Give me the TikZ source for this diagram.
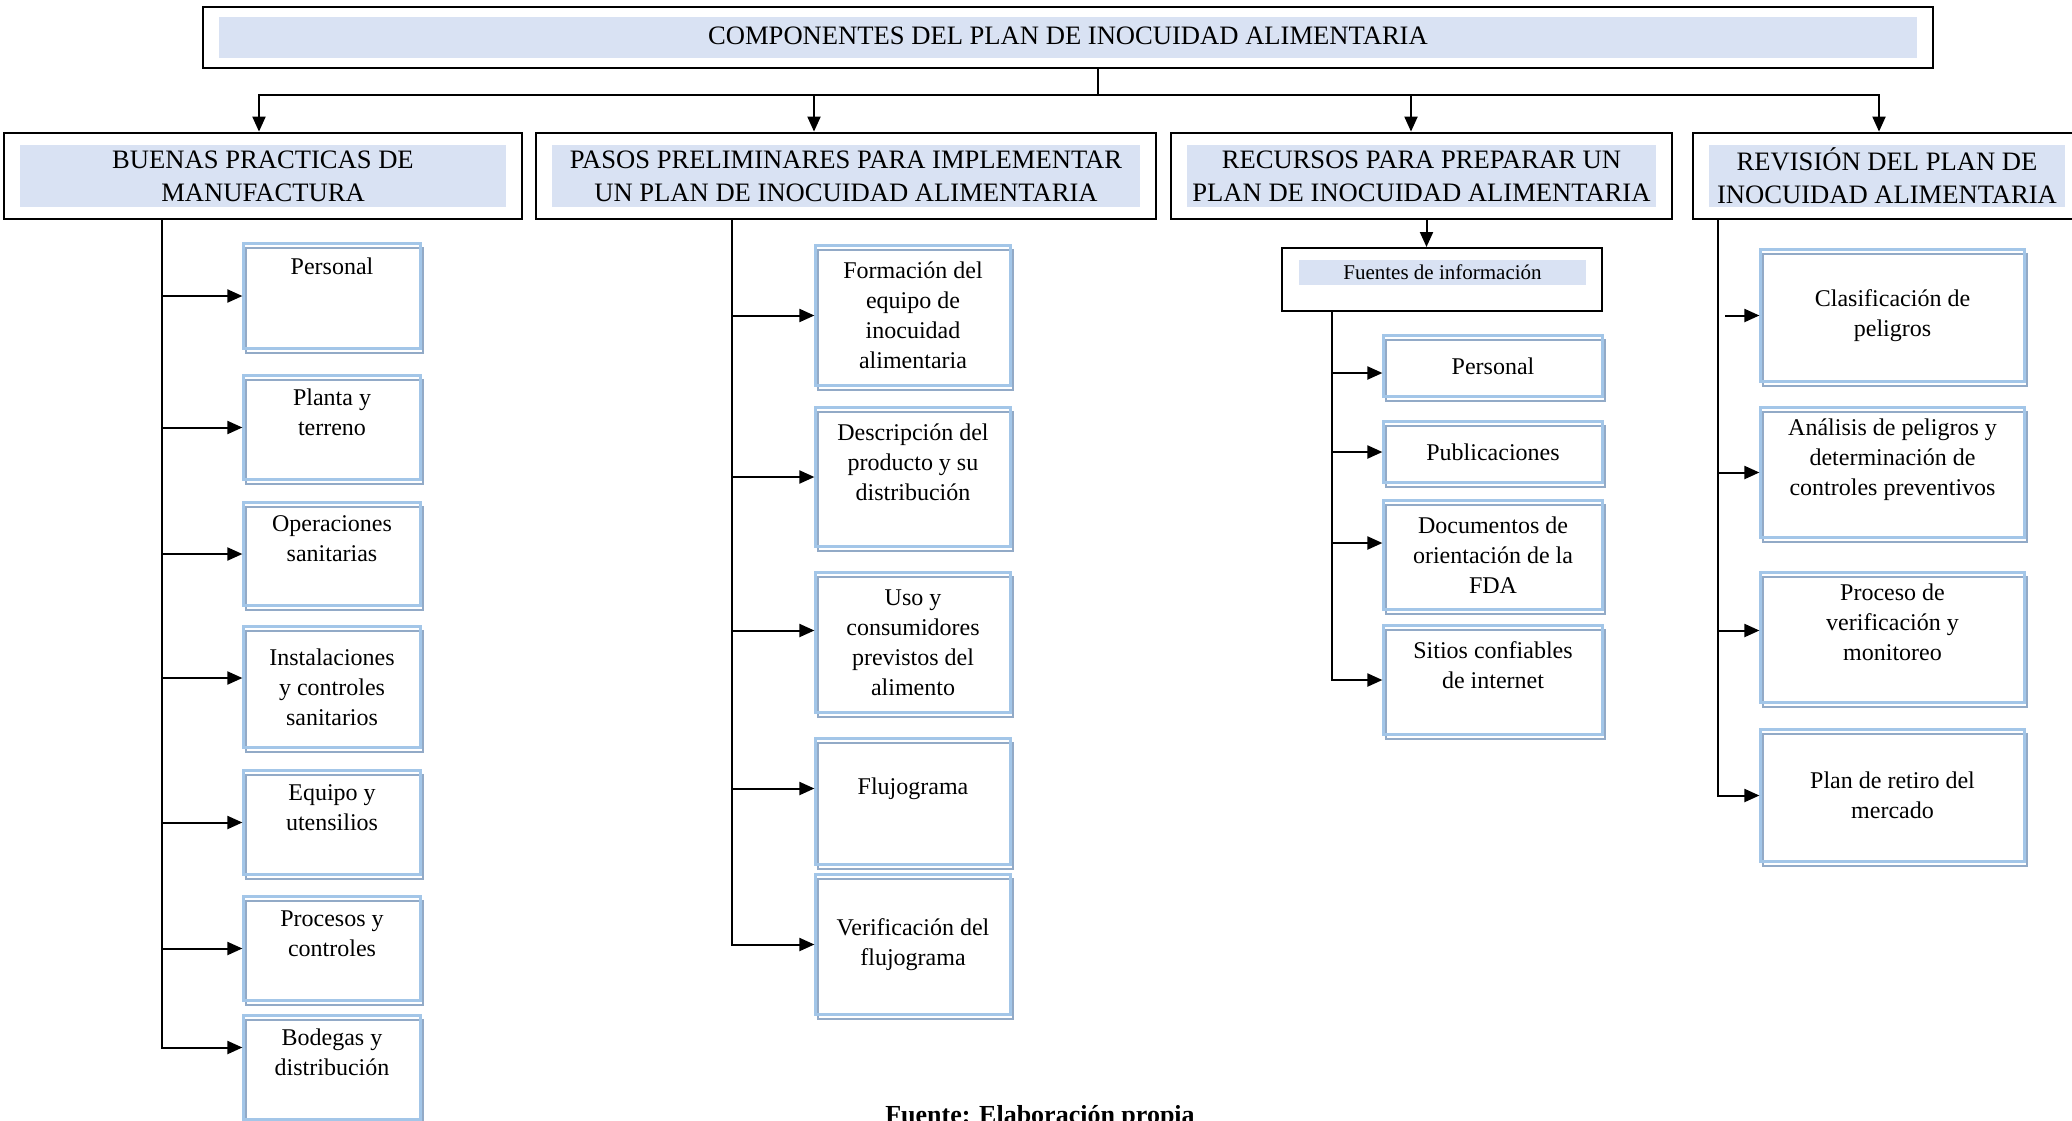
\documentclass[tikz,border=0pt]{standalone}
\usepackage{fontspec}
\setmainfont{Liberation Serif}
\usepackage{xcolor}
\usetikzlibrary{arrows.meta,fit,positioning}
\definecolor{headerfill}{RGB}{217,226,243}
\definecolor{leafblue}{RGB}{163,198,232}
\definecolor{leafshadow}{RGB}{146,170,199}

\begin{document}
\begin{tikzpicture}[
  x=0.5pt, y=-0.5pt,
  hdrfill/.style={
    fill=headerfill,
    minimum height=31pt,
    inner sep=0pt,
    align=center,
    font=\fontsize{13.3}{16.5}\selectfont
  },
  hdrframe/.style={
    draw=black,
    line width=1pt,
    inner xsep=8pt,
    inner ysep=6pt
  },
  leaf/.style={
    draw=leafblue,
    line width=1.1pt,
    minimum width=88.5pt,
    inner sep=2pt,
    align=center,
    font=\fontsize{12}{15}\selectfont,
    preaction={draw=leafshadow, line width=1.1pt,
      transform canvas={shift={(1.4pt,-2.2pt)}}}
  },
  line/.style={-{Triangle[length=7.5pt,width=6.5pt]}, line width=1pt, draw=black},
  bus/.style={line width=1pt, draw=black}
]
\useasboundingbox (0,0) rectangle (2072,1120);

% Title
\node[hdrfill, minimum width=849pt, minimum height=20.5pt, text depth=2pt] (title) at (1068,37.5)
  {COMPONENTES DEL PLAN DE INOCUIDAD ALIMENTARIA};
\node[hdrframe, inner ysep=5pt, fit=(title)] (titlebox) {};

% Four headers
\node[hdrfill, minimum width=243pt] (bpm) at (263,176) {BUENAS PRACTICAS DE\\MANUFACTURA};
\node[hdrframe, fit=(bpm)] (bpmbox) {};
\node[hdrfill, minimum width=294pt] (pasos) at (846,176)
  {PASOS PRELIMINARES PARA IMPLEMENTAR\\UN PLAN DE INOCUIDAD ALIMENTARIA};
\node[hdrframe, fit=(pasos)] (pasosbox) {};
\node[hdrfill, minimum width=234.5pt] (rec) at (1421.5,176)
  {RECURSOS PARA PREPARAR UN\\PLAN DE INOCUIDAD ALIMENTARIA};
\node[hdrframe, fit=(rec)] (recbox) {};
\node[hdrfill, minimum width=178pt] (rev) at (1887,176)
  {REVISIÓN DEL PLAN DE\\INOCUIDAD ALIMENTARIA};
\node[hdrframe, fit=(rev)] (revbox) {};

% Buenas practicas
\node[leaf, minimum height=52.5pt] (bp1) at (332,296) {Personal\\~\\~};
\node[leaf, minimum height=52pt] (bp2) at (332,427.5) {Planta y\\terreno\\~};
\node[leaf, minimum height=51.5pt] (bp3) at (332,554) {Operaciones\\sanitarias\\~};
\node[leaf, minimum height=60.5pt] (bp4) at (332,687) {Instalaciones\\y controles\\sanitarios};
\node[leaf, minimum height=52pt] (bp5) at (332,822.5) {Equipo y\\utensilios\\~};
\node[leaf, minimum height=52pt] (bp6) at (332,948.5) {Procesos y\\controles\\~};
\node[leaf, minimum height=52pt] (bp7) at (332,1067.5) {Bodegas y\\distribución\\~};

% Pasos preliminares
\node[leaf, minimum width=97.5pt, minimum height=70pt] (ps1) at (913,315.5)
  {Formación del\\equipo de\\inocuidad\\alimentaria};
\node[leaf, minimum width=97.5pt, minimum height=69.5pt] (ps2) at (913,477)
  {Descripción del\\producto y su\\distribución\\~};
\node[leaf, minimum width=97.5pt, minimum height=70pt] (ps3) at (913,642.5)
  {Uso y\\consumidores\\previstos del\\alimento};
\node[leaf, minimum width=97.5pt, minimum height=63pt] (ps4) at (913,801.5) {Flujograma\\~};
\node[leaf, minimum width=97.5pt, minimum height=70pt] (ps5) at (913,944.5)
  {Verificación del\\flujograma};

% Recursos
\node[hdrframe, minimum width=160pt, minimum height=31.5pt] (fuentesbox) at (1442,279.5) {};
\node[hdrfill, minimum width=143.5pt, minimum height=12.5pt,
  font=\fontsize{10.5}{12}\selectfont] (fuentes) at (1442.5,272.5) {Fuentes de información};
\node[leaf, minimum width=109.5pt, minimum height=30.5pt] (rc1) at (1493,366) {Personal};
\node[leaf, minimum width=109.5pt, minimum height=30.5pt] (rc2) at (1493,452) {Publicaciones};
\node[leaf, minimum width=109.5pt, minimum height=54.5pt] (rc3) at (1493,555)
  {Documentos de\\orientación de la\\FDA};
\node[leaf, minimum width=109.5pt, minimum height=54.5pt] (rc4) at (1493,680)
  {Sitios confiables\\de internet\\~};

% Revision
\node[leaf, minimum width=132pt, minimum height=66pt] (rv1) at (1892.5,315.5)
  {Clasificación de\\peligros};
\node[leaf, minimum width=132pt, minimum height=65pt] (rv2) at (1892.5,472.5)
  {Análisis de peligros y\\determinación de\\controles preventivos\\~};
\node[leaf, minimum width=132pt, minimum height=65pt] (rv3) at (1892.5,637.5)
  {Proceso de\\verificación y\\monitoreo\\~};
\node[leaf, minimum width=132pt, minimum height=66pt] (rv4) at (1892.5,795.5)
  {Plan de retiro del\\mercado};

% Title to headers
\coordinate (split) at (1098,95);
\draw[bus] (titlebox.south -| split) -- (split);
\draw[line] (split) -| ([xshift=-2pt]bpmbox.north);
\draw[line] (split) -| ([xshift=-16pt]pasosbox.north);
\draw[line] (split) -| ([xshift=-5.25pt]recbox.north);
\draw[line] (split) -| ([xshift=-4pt]revbox.north);

% Buenas practicas branches
\path (bpmbox.south) ++(-101,0) coordinate (trunkA);
\draw[line] (trunkA) |- ([yshift=10pt]bp7.west);
\draw[line] (trunkA |- bp1.west) -- (bp1.west);
\draw[line] (trunkA |- bp2.west) -- (bp2.west);
\draw[line] (trunkA |- bp3.west) -- (bp3.west);
\draw[line] ([yshift=4.5pt]trunkA |- bp4.west) -- ([yshift=4.5pt]bp4.west);
\draw[line] (trunkA |- bp5.west) -- (bp5.west);
\draw[line] (trunkA |- bp6.west) -- (bp6.west);

% Pasos branches
\path (pasosbox.south) ++(-114,0) coordinate (trunkB);
\draw[line] (trunkB) |- (ps5.west);
\draw[line] (trunkB |- ps1.west) -- (ps1.west);
\draw[line] (trunkB |- ps2.west) -- (ps2.west);
\draw[line] ([yshift=6pt]trunkB |- ps3.west) -- ([yshift=6pt]ps3.west);
\draw[line] ([yshift=6.5pt]trunkB |- ps4.west) -- ([yshift=6.5pt]ps4.west);

% Recursos branches
\path ([xshift=2.5pt]recbox.south) coordinate (recdrop);
\draw[line] (recdrop) -- (recdrop |- fuentesbox.north);
\path (fuentesbox.south) ++(-110,0) coordinate (trunkC);
\draw[line] (trunkC) |- (rc4.west);
\draw[line] ([yshift=-3.5pt]trunkC |- rc1.west) -- ([yshift=-3.5pt]rc1.west);
\draw[line] (trunkC |- rc2.west) -- (rc2.west);
\draw[line] ([yshift=6pt]trunkC |- rc3.west) -- ([yshift=6pt]rc3.west);

% Revision branches
\path (revbox.south) ++(-169,0) coordinate (trunkD);
\draw[line] (trunkD) |- (rv4.west);
\path (trunkD |- rv1.west) ++(7,0) coordinate (rvstart);
\draw[line] (rvstart) -- (rv1.west);
\draw[line] (trunkD |- rv2.west) -- (rv2.west);
\draw[line] ([yshift=3.5pt]trunkD |- rv3.west) -- ([yshift=3.5pt]rv3.west);

% Source
\node[font=\fontsize{13}{15}\selectfont\bfseries, anchor=base] (source) at (1040,1123)
  {Fuente: Elaboración propia};
\end{tikzpicture}
\end{document}
